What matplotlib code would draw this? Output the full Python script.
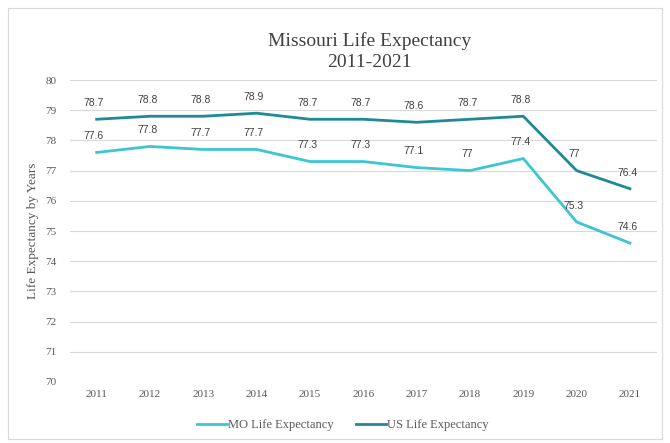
import matplotlib.pyplot as plt
from matplotlib.patches import Rectangle

years = ["2011", "2012", "2013", "2014", "2015", "2016", "2017", "2018", "2019", "2020", "2021"]
mo_life = [77.6, 77.8, 77.7, 77.7, 77.3, 77.3, 77.1, 77.0, 77.4, 75.3, 74.6]
us_life = [78.7, 78.8, 78.8, 78.9, 78.7, 78.7, 78.6, 78.7, 78.8, 77.0, 76.4]

MO_COLOR = "#3cc6d2"
US_COLOR = "#1f8995"
SERIF = "Liberation Serif"

fig = plt.figure(figsize=(6.7, 4.43), dpi=100)
fig.patches.append(Rectangle((0.012, 0.008), 0.976, 0.975, transform=fig.transFigure,
                             fill=False, edgecolor="#d9d9d9", linewidth=0.8))
ax = fig.add_axes([0.1045, 0.1377, 0.8755, 0.6817])

x = list(range(len(years)))
ax.plot(x, mo_life, color=MO_COLOR, linewidth=2.0, label="MO Life Expectancy")
ax.plot(x, us_life, color=US_COLOR, linewidth=2.0, label="US Life Expectancy")

def fmt(v):
    return f"{v:g}"

# value labels above each point
for series in (mo_life, us_life):
    for i, v in enumerate(series):
        ax.annotate(fmt(v), (i, v), xytext=(-2, 8), textcoords="offset points",
                    ha="center", va="bottom", fontsize=7.5, color="#404040",
                    family="Liberation Sans")

ax.set_xlim(-0.5, len(years) - 0.5)
ax.set_ylim(70, 80)
ax.set_yticks(range(70, 81))
ax.set_xticks(x)
ax.set_xticklabels(years)
ax.grid(axis="y", color="#d9d9d9", linewidth=0.8)
ax.set_axisbelow(True)
for s in ax.spines.values():
    s.set_visible(False)
ax.tick_params(length=0, labelsize=8, labelcolor="#595959", pad=6)
ax.tick_params(axis="y", pad=10)
for lbl in ax.get_xticklabels() + ax.get_yticklabels():
    lbl.set_family(SERIF)

ax.set_ylabel("Life Expectancy by Years", family=SERIF, fontsize=9.5, color="#595959", labelpad=4)
fig.text(0.551, 0.884, "Missouri Life Expectancy\n2011-2021", ha="center", va="center",
         family=SERIF, fontsize=14, color="#404040", linespacing=1.35)

leg = ax.legend(loc="upper center", bbox_to_anchor=(0.465, -0.085), ncol=2, frameon=False,
                prop={"family": SERIF, "size": 9}, handlelength=2.4, columnspacing=1.75,
                handletextpad=0.1)
for t in leg.get_texts():
    t.set_color("#595959")

fig.savefig("out.png", dpi=100)
